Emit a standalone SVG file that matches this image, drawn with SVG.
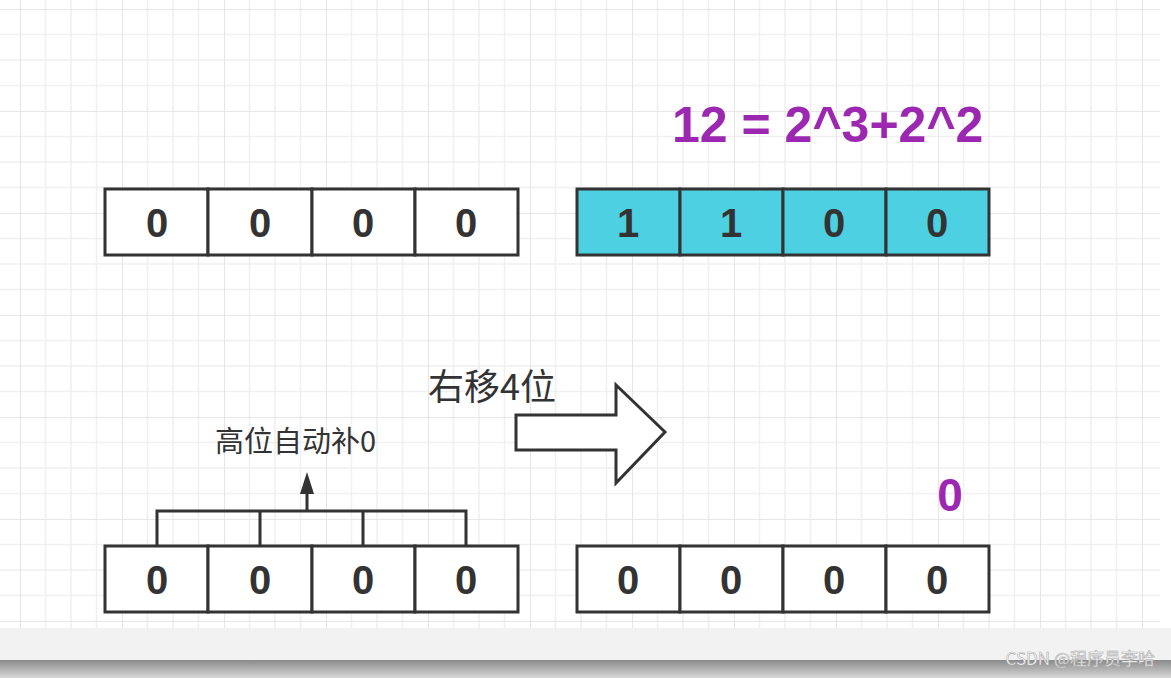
<svg xmlns="http://www.w3.org/2000/svg" width="1171" height="678" viewBox="0 0 1171 678">
<defs>
<pattern id="g" x="20" y="9" width="102" height="102" patternUnits="userSpaceOnUse">
<path d="M25.5 0V102M51 0V102M76.5 0V102M0 25.5H102M0 51H102M0 76.5H102" stroke="#f0f0f0" stroke-width="1.5"/>
<path d="M0 0V102M0 0H102" stroke="#e6e6e6" stroke-width="2"/>
</pattern>
<linearGradient id="bb" x1="0" y1="0" x2="0" y2="1"><stop offset="0" stop-color="#8a8a8a"/><stop offset="1" stop-color="#d8d8d8"/></linearGradient>
<marker id="ah" markerWidth="10" markerHeight="10" refX="5" refY="9" orient="auto" markerUnits="userSpaceOnUse"><path d="M0 0L5 -1L10 0L5 -1" fill="none"/></marker>
</defs>
<style>
.c{fill:#fff;stroke:#333;stroke-width:3}
.b{fill:#4dd0e1}
.t{font-family:"Liberation Sans",Arial,sans-serif;font-weight:bold;font-size:40px;fill:#333;text-anchor:middle}
.p{font-family:"Liberation Sans",Arial,sans-serif;font-weight:bold;fill:#9c27b0}
.l{font-family:"Noto Sans CJK SC","Liberation Sans",sans-serif;fill:#333}
</style>
<rect width="1171" height="678" fill="#fff"/>
<rect x="0" y="0" width="1160" height="628" fill="url(#g)"/>
<rect x="0" y="628" width="1171" height="32" fill="#f2f2f2"/>
<rect x="0" y="660" width="1171" height="18" fill="url(#bb)"/>
<text x="1155" y="665" font-family="'Noto Sans CJK SC',sans-serif" font-size="17" fill="#fff" stroke="#aaa" stroke-width="0.6" text-anchor="end">CSDN @程序员李哈</text>

<g id="top-left">
<rect class="c" x="105" y="189" width="103" height="66"/><rect class="c" x="208" y="189" width="104" height="66"/><rect class="c" x="312" y="189" width="103" height="66"/><rect class="c" x="415" y="189" width="103" height="66"/>
<text class="t" x="157" y="237">0</text><text class="t" x="260" y="237">0</text><text class="t" x="363" y="237">0</text><text class="t" x="466" y="237">0</text>
</g>
<g id="top-right">
<rect class="c b" x="577" y="189" width="103" height="66" style="fill:#4dd0e1"/><rect class="c" style="fill:#4dd0e1" x="680" y="189" width="103" height="66"/><rect class="c" style="fill:#4dd0e1" x="783" y="189" width="103" height="66"/><rect class="c" style="fill:#4dd0e1" x="886" y="189" width="103" height="66"/>
<text class="t" x="628" y="237">1</text><text class="t" x="731" y="237">1</text><text class="t" x="834" y="237">0</text><text class="t" x="937" y="237">0</text>
</g>
<g id="bottom-left">
<rect class="c" x="105" y="546" width="103" height="66"/><rect class="c" x="208" y="546" width="104" height="66"/><rect class="c" x="312" y="546" width="103" height="66"/><rect class="c" x="415" y="546" width="103" height="66"/>
<text class="t" x="157" y="594">0</text><text class="t" x="260" y="594">0</text><text class="t" x="363" y="594">0</text><text class="t" x="466" y="594">0</text>
</g>
<g id="bottom-right">
<rect class="c" x="577" y="546" width="103" height="66"/><rect class="c" x="680" y="546" width="103" height="66"/><rect class="c" x="783" y="546" width="103" height="66"/><rect class="c" x="886" y="546" width="103" height="66"/>
<text class="t" x="628" y="594">0</text><text class="t" x="731" y="594">0</text><text class="t" x="834" y="594">0</text><text class="t" x="937" y="594">0</text>
</g>
<g id="labels">
<text class="p" x="672" y="142" font-size="50">12 = 2^3+2^2</text>
<text class="p" x="950" y="511" font-size="46" text-anchor="middle">0</text>
<text class="l" x="428" y="400" font-size="36">右移4位</text>
<text class="l" x="215" y="452" font-size="29">高位自动补0</text>
</g>
<g id="connectors">
<path d="M157 546V511H466V546M260 511V546M363 511V546M307 511V490" fill="none" stroke="#333" stroke-width="3"/>
<path d="M300 494L307 472L314 494Z" fill="#333"/>
<path d="M516 415H616V385L665 432L616 483V450H516Z" fill="#fff" stroke="#333" stroke-width="3" stroke-linejoin="miter"/>
</g>
</svg>
